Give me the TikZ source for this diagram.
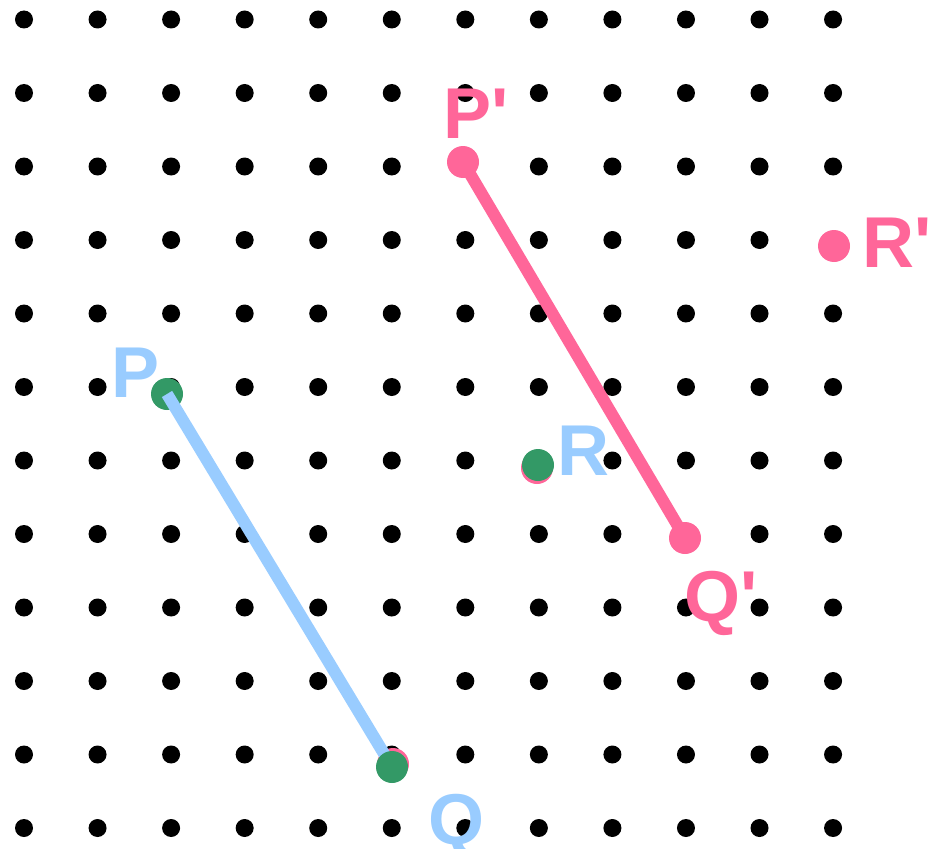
\documentclass[tikz,border=0pt]{standalone}
\usepackage{fontspec}
\setmainfont{Liberation Sans}[Ligatures=TeXOff]
\definecolor{ptgreen}{HTML}{339966}
\definecolor{ptpink}{HTML}{FF6699}
\definecolor{ptblue}{HTML}{99CCFF}
\begin{document}
\begin{tikzpicture}[x=1pt,y=-1pt,
  griddot/.style={circle,fill=black,inner sep=0pt,minimum size=18pt},
  greendot/.style={circle,fill=ptgreen,inner sep=0pt,minimum size=32pt},
  pinkdot/.style={circle,fill=ptpink,inner sep=0pt,minimum size=32pt},
  seg/.style={line width=12pt},
  lbl/.style={font=\fontsize{72}{80}\selectfont\bfseries,inner sep=0pt,anchor=base}]
\useasboundingbox (0,0) rectangle (936,848);
\foreach \i in {0,...,11}{
  \foreach \j in {0,...,11}{
    \node[griddot] (g\i-\j) at ({24+73.55*\i},{19.5+73.5*\j}) {};
  }
}
% pink images under green points
\node[pinkdot] (qq) at (393,764) {};
\node[pinkdot] (rr) at (537,468) {};
% pink segment
\node[pinkdot] (Pp) at (463,162) {};
\node[pinkdot] (Qp) at (685,538) {};
\node[pinkdot] (Rp) at (834,246) {};
\draw[seg,ptpink] (Pp.center) -- (Qp.center);
% green points and blue segment
\node[greendot] (P) at (167,394) {};
\coordinate (qend) at (392,767);
\draw[seg,ptblue] (P.center) -- (qend);
\node[greendot] (Q) at (qend) {};
\node[greendot] (R) at (538,465) {};
% labels
\node[lbl,text=ptblue] (lP) at (136,397) {P};
\node[lbl,text=ptblue] (lQ) at (456,844) {Q};
\node[lbl,text=ptblue] (lR) at (583,475) {R};
\node[lbl,text=ptpink] (lPp) at (476,139) {P'};
\node[lbl,text=ptpink] (lQp) at (721,621) {Q'};
\node[lbl,text=ptpink] (lRp) at (897,267) {R'};
\end{tikzpicture}
\end{document}
